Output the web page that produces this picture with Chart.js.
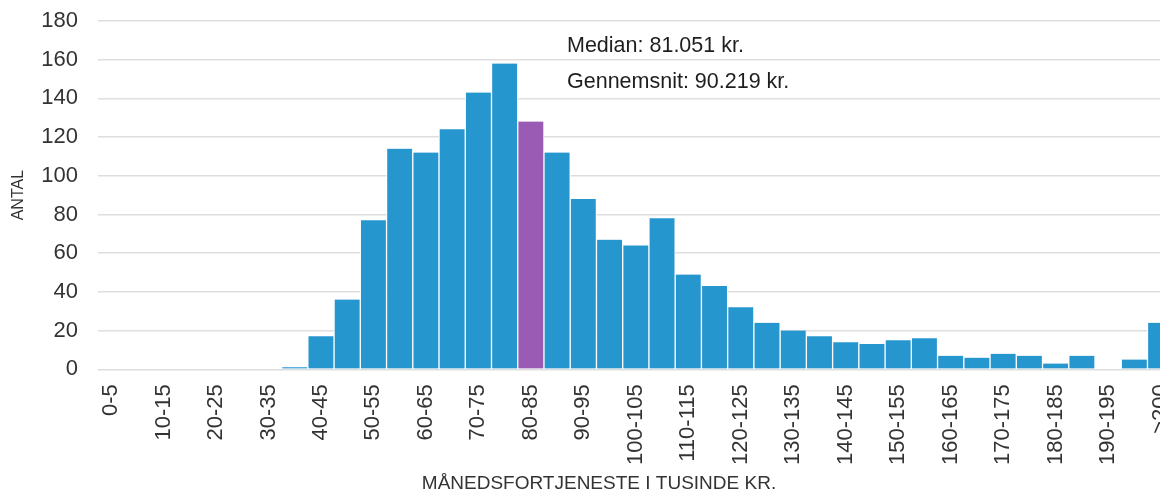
<!DOCTYPE html>
<html>
<head>
<meta charset="utf-8">
<script src="https://cdn.jsdelivr.net/npm/chart.js@4/dist/chart.umd.min.js"></script>
<style>
  html, body { margin: 0; padding: 0; background: #fff; overflow: hidden; }
  #wrap { position: relative; width: 1187px; height: 492px; }
</style>
</head>
<body>
<div id="wrap"><canvas id="incomeChart"></canvas></div>
<script>
// income brackets (thousand kr.)
const brackets = [
  '0-5', '5-10', '10-15', '15-20', '20-25', '25-30', '30-35', '35-40',
  '40-45', '45-50', '50-55', '55-60', '60-65', '65-70', '70-75', '75-80',
  '80-85', '85-90', '90-95', '95-100', '100-105', '105-110', '110-115', '115-120',
  '120-125', '125-130', '130-135', '135-140', '140-145', '145-150', '150-155', '155-160',
  '160-165', '165-170', '170-175', '175-180', '180-185', '185-190', '190-195', '195-200',
  '>200'
];
const counts = [
  0, 0, 0, 0, 0, 0, 0, 1,
  17, 36, 77, 114, 112, 124, 143, 158,
  128, 112, 88, 67, 64, 78, 49, 43,
  32, 24, 20, 17, 14, 13, 15, 16,
  7, 6, 8, 7, 3, 7, 0, 5,
  24
];
const medianBracket = '80-85';
const yTicks = [0, 20, 40, 60, 80, 100, 120, 140, 160, 180];
const notes = ['Median: 81.051 kr.', 'Gennemsnit: 90.219 kr.'];
const xTitle = 'MÅNEDSFORTJENESTE I TUSINDE KR.';
const yTitle = 'ANTAL';

const BLUE = '#2696cf';
const PURPLE = '#9a5bb4';
const FONT = '"Liberation Sans", Arial, sans-serif';

// draws the two summary notes and the x axis title
const notesPlugin = {
  id: 'notes',
  afterDraw(chart) {
    const { ctx, chartArea } = chart;
    ctx.save();
    ctx.fillStyle = '#1e1e1e';
    ctx.textAlign = 'left';
    ctx.textBaseline = 'alphabetic';
    ctx.font = `21.5px ${FONT}`;
    ctx.fillText(notes[0], 567, chartArea.top + 31);
    ctx.fillText(notes[1], 567, chartArea.top + 67);

    ctx.fillStyle = '#333';
    ctx.textAlign = 'center';
    ctx.font = `19px ${FONT}`;
    ctx.fillText(xTitle, 599, chart.height - 3);
    ctx.restore();
  }
};

const ctx = document.getElementById('incomeChart').getContext('2d');
new Chart(ctx, {
  type: 'bar',
  data: {
    labels: brackets,
    datasets: [{
      data: counts,
      backgroundColor: brackets.map(b => b === medianBracket ? PURPLE : BLUE),
      borderColor: '#ffffff',
      borderWidth: { top: 0, left: 1, right: 1, bottom: 0 },
      borderSkipped: false,
      barPercentage: 1,
      categoryPercentage: 1,
    }]
  },
  options: {
    responsive: true,
    maintainAspectRatio: false,
    animation: false,
    layout: { padding: { top: 21, left: 0, right: 0, bottom: 27 } },
    plugins: {
      legend: { display: false },
      tooltip: { enabled: false }
    },
    scales: {
      x: {
        grid: { display: false, drawTicks: true, tickLength: 15 },
        border: { display: false },
        ticks: {
          autoSkip: false,
          maxRotation: 90,
          minRotation: 90,
          padding: 0,
          color: '#333',
          font: { family: FONT, size: 22 },
          callback: (value, index) => index % 2 === 0 ? brackets[index] : ''
        }
      },
      y: {
        min: 0,
        max: 180,
        afterBuildTicks: (axis) => { axis.ticks = yTicks.map(v => ({ value: v })); },
        grid: { color: '#dedede', lineWidth: 1.5, drawTicks: true, tickLength: 20, tickColor: 'rgba(0,0,0,0)' },
        border: { display: false },
        ticks: {
          padding: 0,
          color: '#333',
          font: { family: FONT, size: 22 }
        },
        title: {
          display: true,
          text: yTitle,
          color: '#333',
          font: { family: FONT, size: 16 },
          padding: { top: 9, bottom: 13 }
        }
      }
    }
  },
  plugins: [notesPlugin]
});
</script>
</body>
</html>
